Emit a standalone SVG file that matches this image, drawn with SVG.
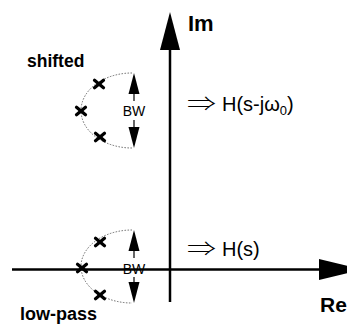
<svg xmlns="http://www.w3.org/2000/svg" width="347" height="329" viewBox="0 0 347 329">
<style>
.lbl{font-family:"Liberation Sans",Arial,sans-serif;font-weight:bold;fill:#000}
.txt{font-family:"Liberation Sans",Arial,sans-serif;fill:#000}
.sym{font-family:"Noto Sans CJK JP","DejaVu Sans",sans-serif;font-weight:300;fill:#000}
.axis{stroke:#000;stroke-width:2.5;fill:none}
.arc{stroke:#666;stroke-width:1;stroke-dasharray:1.5,1.5;fill:none}
.pole{stroke:#000;stroke-width:3.2;stroke-linecap:round}
.bw{stroke:#000;stroke-width:1.2}
</style>
<defs>
<g id="cross"><line class="pole" x1="-4.5" y1="-3.8" x2="4.5" y2="3.8"/><line class="pole" x1="-4.5" y1="3.8" x2="4.5" y2="-3.8"/></g>
</defs>
<g id="connectors">
<line class="axis" x1="170" y1="302" x2="170" y2="48"/>
<polygon points="170,12 160,50 180,50" fill="#000"/>
<line class="axis" x1="12" y1="269.5" x2="322" y2="269.5"/>
<polygon points="319,259 319,280 362,269.5" fill="#000"/>
</g>
<g id="axis-labels">
<text class="lbl" x="188" y="31" font-size="22">Im</text>
<text class="lbl" x="320" y="312" font-size="21">Re</text>
</g>
<g id="shifted">
<text class="lbl" x="27" y="67" font-size="17.5">shifted</text>
<path class="arc" d="M132,73 A51,37.5 0 0 0 132,148"/>
<use href="#cross" x="99" y="84"/>
<use href="#cross" x="81" y="111"/>
<use href="#cross" x="100" y="137"/>
<line class="bw" x1="134" y1="88" x2="134" y2="101"/>
<polygon points="134,73 128.5,94 139.5,94" fill="#000"/>
<line class="bw" x1="134" y1="120" x2="134" y2="133"/>
<polygon points="134,148 128.5,127 139.5,127" fill="#000"/>
<text class="txt" x="134" y="116" font-size="14" text-anchor="middle">BW</text>
</g>
<g id="lowpass">
<text class="lbl" x="20" y="320" font-size="18">low-pass</text>
<path class="arc" d="M132,230 A51,36.5 0 0 0 132,303"/>
<use href="#cross" x="100" y="242"/>
<use href="#cross" x="82" y="268"/>
<use href="#cross" x="100" y="295"/>
<line class="bw" x1="134" y1="245" x2="134" y2="258"/>
<polygon points="134,230 128.5,251 139.5,251" fill="#000"/>
<line class="bw" x1="134" y1="277" x2="134" y2="290"/>
<polygon points="134,303 128.5,282 139.5,282" fill="#000"/>
<text class="txt" x="134" y="274" font-size="14" text-anchor="middle">BW</text>
</g>
<g id="shifted-tf">
<text class="sym" x="187" y="111" font-size="20" textLength="29" lengthAdjust="spacingAndGlyphs">⇒</text>
<text class="txt" x="222" y="111" font-size="20">H(s-j<tspan>ω</tspan><tspan font-size="13" dy="4">0</tspan><tspan dy="-4">)</tspan></text>
</g>
<g id="lowpass-tf">
<text class="sym" x="187" y="256" font-size="20" textLength="29" lengthAdjust="spacingAndGlyphs">⇒</text>
<text class="txt" x="222" y="256" font-size="20">H(s)</text>
</g>
</svg>
